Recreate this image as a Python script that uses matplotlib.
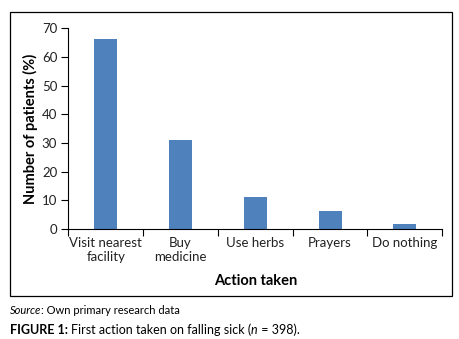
import numpy as np
import matplotlib
matplotlib.use('Agg')
import matplotlib.pyplot as plt
from matplotlib.patches import Rectangle

plt.rcParams['font.family'] = ['Lato', 'DejaVu Sans']

actions = ['Visit nearest\nfacility', 'Buy\nmedicine', 'Use herbs', 'Prayers', 'Do nothing']
percents = [66.3, 30.9, 11.1, 6.3, 1.8]

fig = plt.figure(figsize=(4.6, 3.39), dpi=100)

# outer frame around the chart
fig.patches.append(Rectangle((0.0217, 0.1268), 0.961, 0.838, transform=fig.transFigure,
                             fill=False, edgecolor='black', linewidth=0.9))

ax = fig.add_axes([0.1485, 0.3245, 0.813, 0.592])
x = np.arange(len(actions))
ax.bar(x, percents, width=0.31, color='#4F81BD')

ax.set_xlim(-0.5, len(actions) - 0.5)
ax.set_ylim(0, 70)
ax.set_yticks(range(0, 71, 10))
ax.set_xticks(x)
ax.set_xticklabels(actions, fontsize=9.5, color='#222222', linespacing=1.2)
ax.set_xticks(np.arange(-0.5, len(actions)), minor=True)
ax.tick_params(axis='x', which='major', length=0, pad=6)
ax.tick_params(axis='x', which='minor', length=5, width=0.8, direction='out')
ax.tick_params(axis='y', length=5, width=0.8, labelsize=9.5, labelcolor='#222222', pad=3)

for s in ['top', 'right']:
    ax.spines[s].set_visible(False)
for s in ['left', 'bottom']:
    ax.spines[s].set_linewidth(0.8)

ax.set_ylabel('Number of patients (%)', fontsize=10.5, fontweight='bold', labelpad=3)
ax.set_xlabel('Action taken', fontsize=10.5, fontweight='bold', labelpad=8)


def text_row(x0, y0, pieces):
    # lay text pieces side by side on one baseline
    r = fig.canvas.get_renderer()
    xpos = x0
    for s, kw in pieces:
        t = fig.text(xpos, y0, s, va='baseline', **kw)
        xpos += t.get_window_extent(r).width / fig.bbox.width


text_row(0.0217, 0.073, [('Source', dict(fontsize=8, style='italic')),
                         (': Own primary research data', dict(fontsize=8))])
text_row(0.0217, 0.015, [('FIGURE 1: ', dict(fontsize=9, fontweight='bold')),
                         ('First action taken on falling sick (', dict(fontsize=9)),
                         ('n', dict(fontsize=9, style='italic')),
                         (' = 398).', dict(fontsize=9))])

fig.savefig('out.png', dpi=100)
